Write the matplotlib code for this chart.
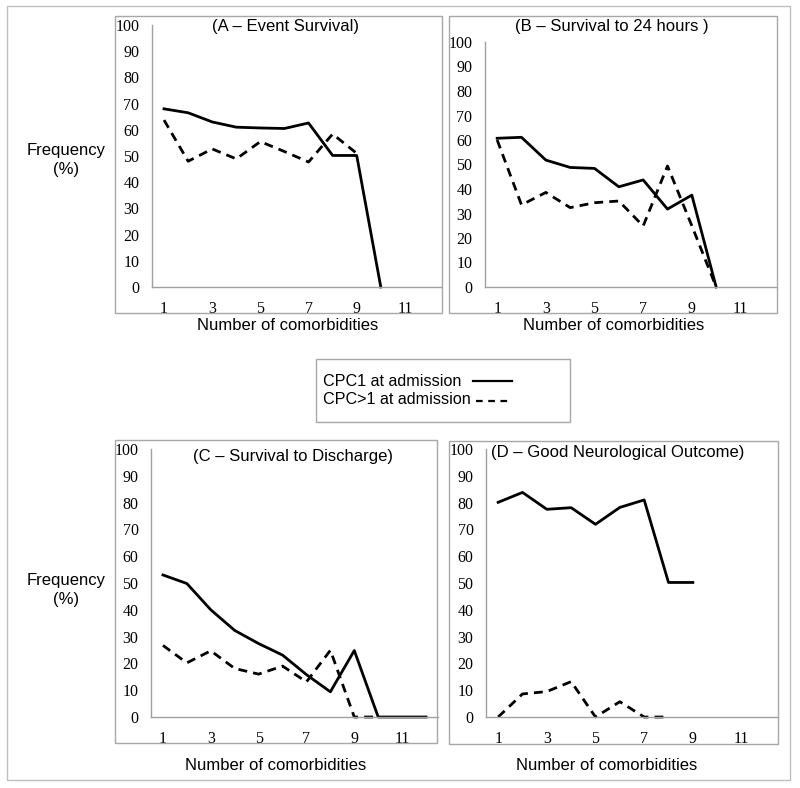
"""
Survival / outcome frequency by number of comorbidities, four panels.
"""
import matplotlib
matplotlib.use("Agg")
import matplotlib.pyplot as plt
from matplotlib.patches import Rectangle

W, H = 800, 788

# ── data ────────────────────────────────────────────────────────
a_cpc1 = [68, 66.5, 63, 61, 60.7, 60.5, 62.6, 50.2, 50.2, 0]
a_cpc2 = [63.7, 48, 52.7, 48.9, 55.5, 51.7, 47.7, 58.4, 51]

b_cpc1 = [60.7, 61.1, 51.8, 48.8, 48.4, 40.9, 43.7, 31.8, 37.5, 0]
b_cpc2 = [60, 33.5, 38.6, 32.4, 34.4, 35.1, 24.9, 49.4, 25, 0]

c_cpc1 = [53, 49.8, 40, 32.3, 27.4, 23.1, 15.8, 9.4, 24.8, 0, 0, 0]
c_cpc2 = [26.7, 20.2, 24.7, 18.1, 16, 19, 13.1, 24.9, 0, 0]

d_cpc1 = [80.1, 83.8, 77.5, 78.1, 71.9, 78.2, 81, 50.2, 50.2]
d_cpc2 = [0, 8.6, 9.5, 13.2, 0, 5.7, 0, 0]

titles = ["(A – Event Survival)", "(B – Survival to 24 hours )",
          "(C – Survival to Discharge)", "(D – Good Neurological Outcome)"]
x_ticks = [1, 3, 5, 7, 9, 11]
y_ticks = list(range(0, 101, 10))
legend_labels = ["CPC1 at admission", "CPC>1 at admission"]


def fx(x):
    return x / W


def fy(y):
    return 1 - y / H


def px_axes(fig, left, top, right, bottom):
    return fig.add_axes([fx(left), fy(bottom), (right - left) / W, (bottom - top) / H])


def px_box(fig, left, top, right, bottom, color="#a8a8a8", lw=1.0):
    fig.patches.append(Rectangle((fx(left), fy(bottom)), (right - left) / W,
                                 (bottom - top) / H, transform=fig.transFigure,
                                 fill=False, edgecolor=color, linewidth=lw))


sans = "Liberation Sans"
serif = "Liberation Serif"
grey = "#a0a0a0"
dash = (0, (3.2, 2.2))

fig = plt.figure(figsize=(W / 100, H / 100), dpi=100)

# outer frame and panel boxes
px_box(fig, 7, 6, 790, 780, color="#c0c0c0")
px_box(fig, 115, 16, 442, 313)
px_box(fig, 449, 16, 777, 313)
px_box(fig, 115, 440, 437, 743)
px_box(fig, 449, 441, 778, 744)

panels = [
    ((152, 25, 441, 287), a_cpc1, a_cpc2, (285, 26)),
    ((485, 42, 777, 287), b_cpc1, b_cpc2, (612, 26)),
    ((151, 449, 438, 717), c_cpc1, c_cpc2, (293, 457)),
    ((486, 449, 778, 717), d_cpc1, d_cpc2, (618, 453)),
]

for (box, s1, s2, tpos), title in zip(panels, titles):
    ax = px_axes(fig, *box)
    ax.plot(range(1, len(s1) + 1), s1, color="black", lw=2, clip_on=False)
    ax.plot(range(1, len(s2) + 1), s2, color="black", lw=2, linestyle=dash,
            clip_on=False)
    ax.set_xlim(0.5, 12.5)
    ax.set_ylim(0, 100)
    ax.set_xticks(x_ticks)
    ax.set_yticks(y_ticks)
    ax.tick_params(length=0, labelsize=11.5)
    ax.tick_params(axis="y", pad=9)
    ax.tick_params(axis="x", pad=10)
    for lab in ax.get_xticklabels() + ax.get_yticklabels():
        lab.set_fontfamily(serif)
    for side in ["top", "right"]:
        ax.spines[side].set_visible(False)
    for side in ["left", "bottom"]:
        ax.spines[side].set_color(grey)
        ax.spines[side].set_linewidth(1)
    ax.patch.set_visible(False)
    fig.text(fx(tpos[0]), fy(tpos[1]), title, ha="center", va="center",
             fontsize=12, family=sans)

# axis labels
for y in (160, 590):
    fig.text(fx(66), fy(y), "Frequency\n(%)", ha="center", va="center",
             fontsize=12, family=sans, linespacing=1.3)
for x, y in [(288, 325), (614, 325), (276, 765), (607, 765)]:
    fig.text(fx(x), fy(y), "Number of comorbidities", ha="center", va="center",
             fontsize=12, family=sans)

# legend
px_box(fig, 316, 359, 570, 422)
fig.text(fx(323), fy(381), legend_labels[0], ha="left", va="center",
         fontsize=11.6, family=sans)
fig.text(fx(323), fy(400), legend_labels[1], ha="left", va="center",
         fontsize=11.6, family=sans)
fig.add_artist(plt.Line2D([fx(473), fx(512)], [fy(381), fy(381)],
                          transform=fig.transFigure, color="black", lw=1.6))
fig.add_artist(plt.Line2D([fx(476), fx(512)], [fy(401), fy(401)],
                          transform=fig.transFigure, color="black", lw=1.6,
                          linestyle=(0, (3, 2.5))))

fig.savefig("out.png", dpi=100)
